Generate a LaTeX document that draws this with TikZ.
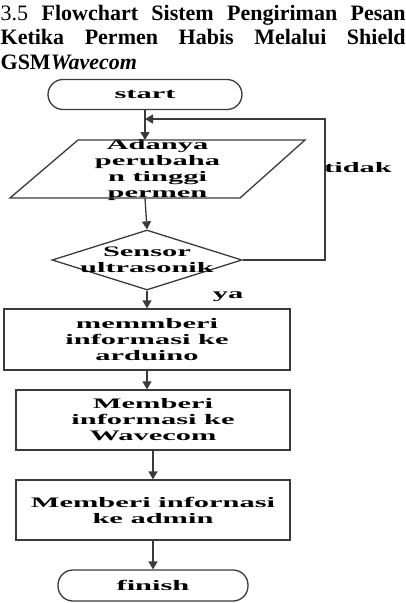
\documentclass[tikz,border=0pt]{standalone}
\usepackage{fontspec}
\setmainfont{Liberation Serif}
\newfontfamily\chartfont[FakeStretch=2.1]{Liberation Serif}
\usetikzlibrary{shapes.geometric,arrows.meta}
\definecolor{linegray}{HTML}{3A3A3A}

\begin{document}
\begin{tikzpicture}[x=1pt,y=-1pt,line width=1.3pt,
  title/.style={anchor=base west,inner sep=0pt,font=\fontsize{22}{24}\selectfont},
  chart/.style={inner sep=0pt,align=center,font=\chartfont\bfseries\fontsize{14.5}{16}\selectfont},
  terminal/.style={chart,draw=linegray,rounded corners=15pt,minimum width=#1,minimum height=30pt},
  procbox/.style={chart,draw=linegray,minimum width=#1,minimum height=60pt},
  flow/.style={draw=linegray,-{Triangle[length=8pt,width=9pt]}}]
\path[use as bounding box] (0,0) rectangle (405,603);
% title
\node[title] (title1) at (0,20) {\makebox[405pt][s]{3.5 \textbf{Flowchart Sistem Pengiriman Pesan}}};
\node[title] (title2) at (0,44.5) {\makebox[405pt][s]{\textbf{Ketika Permen Habis Melalui Shield}}};
\node[title] (title3) at (0,69) {\textbf{GSM\textit{Wavecom}}};
% flowchart
\node[terminal=194pt] (start) at (145,94.5) {start};
\node[chart] (input) at (157.5,170) {Adanya\\perubaha\\n tinggi\\permen};
\draw[linegray] (input.center) ++(-147.5,28) coordinate (inbl) -- ++(230,0) -- ++(65,-58) -- ++(-227,0) -- cycle;
\coordinate (intop) at (start.south |- 0,140); \coordinate (inbot) at (start.south |- inbl);
\node[chart,draw=linegray,diamond,inner sep=2pt,minimum width=190pt,minimum height=60pt,label={[chart]center:{Sensor\\ultrasonik}}] (sensor) at (147,260) {};
\node[procbox=286pt,minimum height=61pt] (arduino) at (147,339.5) {memmberi\\informasi ke\\arduino};
\node[procbox=274pt] (wavecom) at (153,420) {Memberi\\informasi ke\\Wavecom};
\node[procbox=274pt] (admin) at (153,510) {Memberi infornasi\\ke admin};
\node[terminal=190pt,minimum height=31pt] (finish) at (153,585.5) {finish};
\node[chart] (tidak) at (358,168) {tidak};
\node[chart] (ya) at (228,297) {ya};
\coordinate (back) at (325,119);
% connectors
\draw[flow] (start.south) -- (intop);
\draw[flow] (inbot) -- (sensor.north);
\draw[flow] (sensor.east) -| (back) -- (start.south |- back);
\draw[flow] (sensor.south) -- (arduino.north);
\draw[flow] (arduino.south) -- (arduino.south |- wavecom.north);
\draw[flow] (wavecom.south) -- (admin.north);
\draw[flow] (admin.south) -- (finish.north);
\end{tikzpicture}
\end{document}
